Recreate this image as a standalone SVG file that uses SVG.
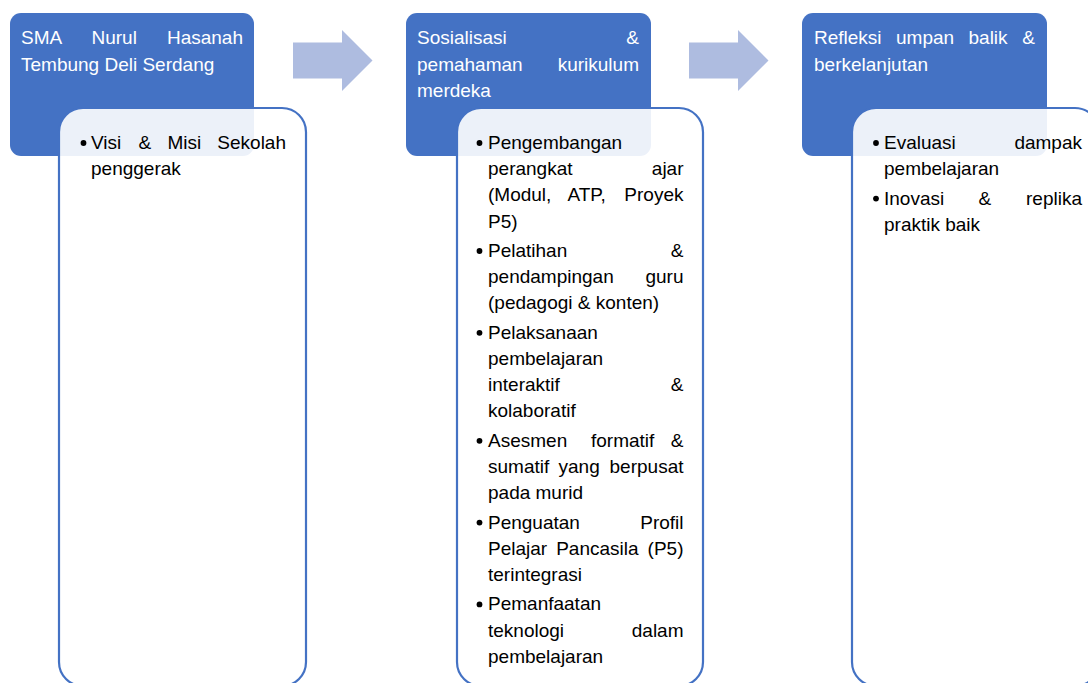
<svg xmlns="http://www.w3.org/2000/svg" width="1088" height="683" viewBox="0 0 1088 683">
<style>
  .hdr { fill: #4472C4; }
  .body { fill: #FFFFFF; fill-opacity: 0.9; stroke: #4472C4; stroke-width: 2.2; }
  .arrow { fill: #AEBCE0; }
  .ht { font-family: "Liberation Sans", Arial, sans-serif; font-size: 19px; fill: #FFFFFF; }
  .bt { font-family: "Liberation Sans", Arial, sans-serif; font-size: 19px; fill: #000000; }
  .e { text-anchor: end; }
  .dot { fill: #000000; }
</style>
<rect width="1088" height="683" fill="#FFFFFF"/>

<g id="step1-header">
  <rect class="hdr" x="10" y="13" width="244" height="143" rx="11"/>
  <text class="ht" x="21" y="44.3">SMA</text>
  <text class="ht" x="91.5" y="44.3">Nurul</text>
  <text class="ht e" x="243" y="44.3">Hasanah</text>
  <text class="ht" x="21" y="70.5">Tembung Deli Serdang</text>
</g>

<g id="step2-header">
  <rect class="hdr" x="406" y="13" width="245" height="143" rx="11"/>
  <text class="ht" x="417" y="44.3">Sosialisasi</text>
  <text class="ht e" x="639" y="44.3">&amp;</text>
  <text class="ht" x="417" y="70.5">pemahaman</text>
  <text class="ht e" x="639" y="70.5">kurikulum</text>
  <text class="ht" x="417" y="96.7">merdeka</text>
</g>

<g id="step3-header">
  <rect class="hdr" x="802" y="13" width="245" height="143" rx="11"/>
  <text class="ht" x="814" y="44.3">Refleksi</text>
  <text class="ht" x="896" y="44.3">umpan</text>
  <text class="ht" x="968.5" y="44.3">balik</text>
  <text class="ht e" x="1035" y="44.3">&amp;</text>
  <text class="ht" x="814" y="70.5">berkelanjutan</text>
</g>

<g id="connectors">
  <polygon class="arrow" points="293,42.5 342,42.5 342,30 372.5,60.5 342,91 342,78.5 293,78.5"/>
  <polygon class="arrow" points="689,42.5 738,42.5 738,30 768.5,60.5 738,91 738,78.5 689,78.5"/>
</g>

<g id="step1-details">
  <rect class="body" x="59" y="108" width="247" height="578" rx="24"/>
  <circle class="dot" cx="83.5" cy="143" r="2.9"/>
  <text class="bt" x="91" y="149">Visi</text>
  <text class="bt" x="138.5" y="149">&amp;</text>
  <text class="bt" x="167.5" y="149">Misi</text>
  <text class="bt e" x="286" y="149">Sekolah</text>
  <text class="bt" x="91" y="175.2">penggerak</text>
</g>

<g id="step2-details">
  <rect class="body" x="457" y="108" width="246" height="578" rx="24"/>
  <circle class="dot" cx="479.5" cy="143" r="2.9"/>
  <text class="bt" x="488" y="149">Pengembangan</text>
  <text class="bt" x="488" y="175.2">perangkat</text>
  <text class="bt e" x="683.5" y="175.2">ajar</text>
  <text class="bt" x="488" y="201.4">(Modul,</text>
  <text class="bt" x="567.5" y="201.4">ATP,</text>
  <text class="bt e" x="683.5" y="201.4">Proyek</text>
  <text class="bt" x="488" y="227.6">P5)</text>

  <circle class="dot" cx="479.5" cy="251" r="2.9"/>
  <text class="bt" x="488" y="257">Pelatihan</text>
  <text class="bt e" x="683.5" y="257">&amp;</text>
  <text class="bt" x="488" y="283.2">pendampingan</text>
  <text class="bt e" x="683.5" y="283.2">guru</text>
  <text class="bt" x="488" y="309.4">(pedagogi &amp; konten)</text>

  <circle class="dot" cx="479.5" cy="332.8" r="2.9"/>
  <text class="bt" x="488" y="338.8">Pelaksanaan</text>
  <text class="bt" x="488" y="365">pembelajaran</text>
  <text class="bt" x="488" y="391.2">interaktif</text>
  <text class="bt e" x="683.5" y="391.2">&amp;</text>
  <text class="bt" x="488" y="417.4">kolaboratif</text>

  <circle class="dot" cx="479.5" cy="440.8" r="2.9"/>
  <text class="bt" x="488" y="446.8">Asesmen</text>
  <text class="bt" x="591" y="446.8">formatif</text>
  <text class="bt e" x="683.5" y="446.8">&amp;</text>
  <text class="bt" x="488" y="473">sumatif</text>
  <text class="bt" x="558.5" y="473">yang</text>
  <text class="bt e" x="683.5" y="473">berpusat</text>
  <text class="bt" x="488" y="499.2">pada murid</text>

  <circle class="dot" cx="479.5" cy="522.6" r="2.9"/>
  <text class="bt" x="488" y="528.6">Penguatan</text>
  <text class="bt e" x="683.5" y="528.6">Profil</text>
  <text class="bt" x="488" y="554.8">Pelajar</text>
  <text class="bt" x="556.2" y="554.8">Pancasila</text>
  <text class="bt e" x="683.5" y="554.8">(P5)</text>
  <text class="bt" x="488" y="581">terintegrasi</text>

  <circle class="dot" cx="479.5" cy="604.4" r="2.9"/>
  <text class="bt" x="488" y="610.4">Pemanfaatan</text>
  <text class="bt" x="488" y="636.6">teknologi</text>
  <text class="bt e" x="683.5" y="636.6">dalam</text>
  <text class="bt" x="488" y="662.8">pembelajaran</text>
</g>

<g id="step3-details">
  <rect class="body" x="852" y="108" width="247" height="578" rx="24"/>
  <circle class="dot" cx="876" cy="143" r="2.9"/>
  <text class="bt" x="884" y="149">Evaluasi</text>
  <text class="bt e" x="1082" y="149">dampak</text>
  <text class="bt" x="884" y="175.2">pembelajaran</text>
  <circle class="dot" cx="876" cy="198.6" r="2.9"/>
  <text class="bt" x="884" y="204.6">Inovasi</text>
  <text class="bt" x="978.5" y="204.6">&amp;</text>
  <text class="bt e" x="1082" y="204.6">replika</text>
  <text class="bt" x="884" y="230.8">praktik baik</text>
</g>
</svg>
